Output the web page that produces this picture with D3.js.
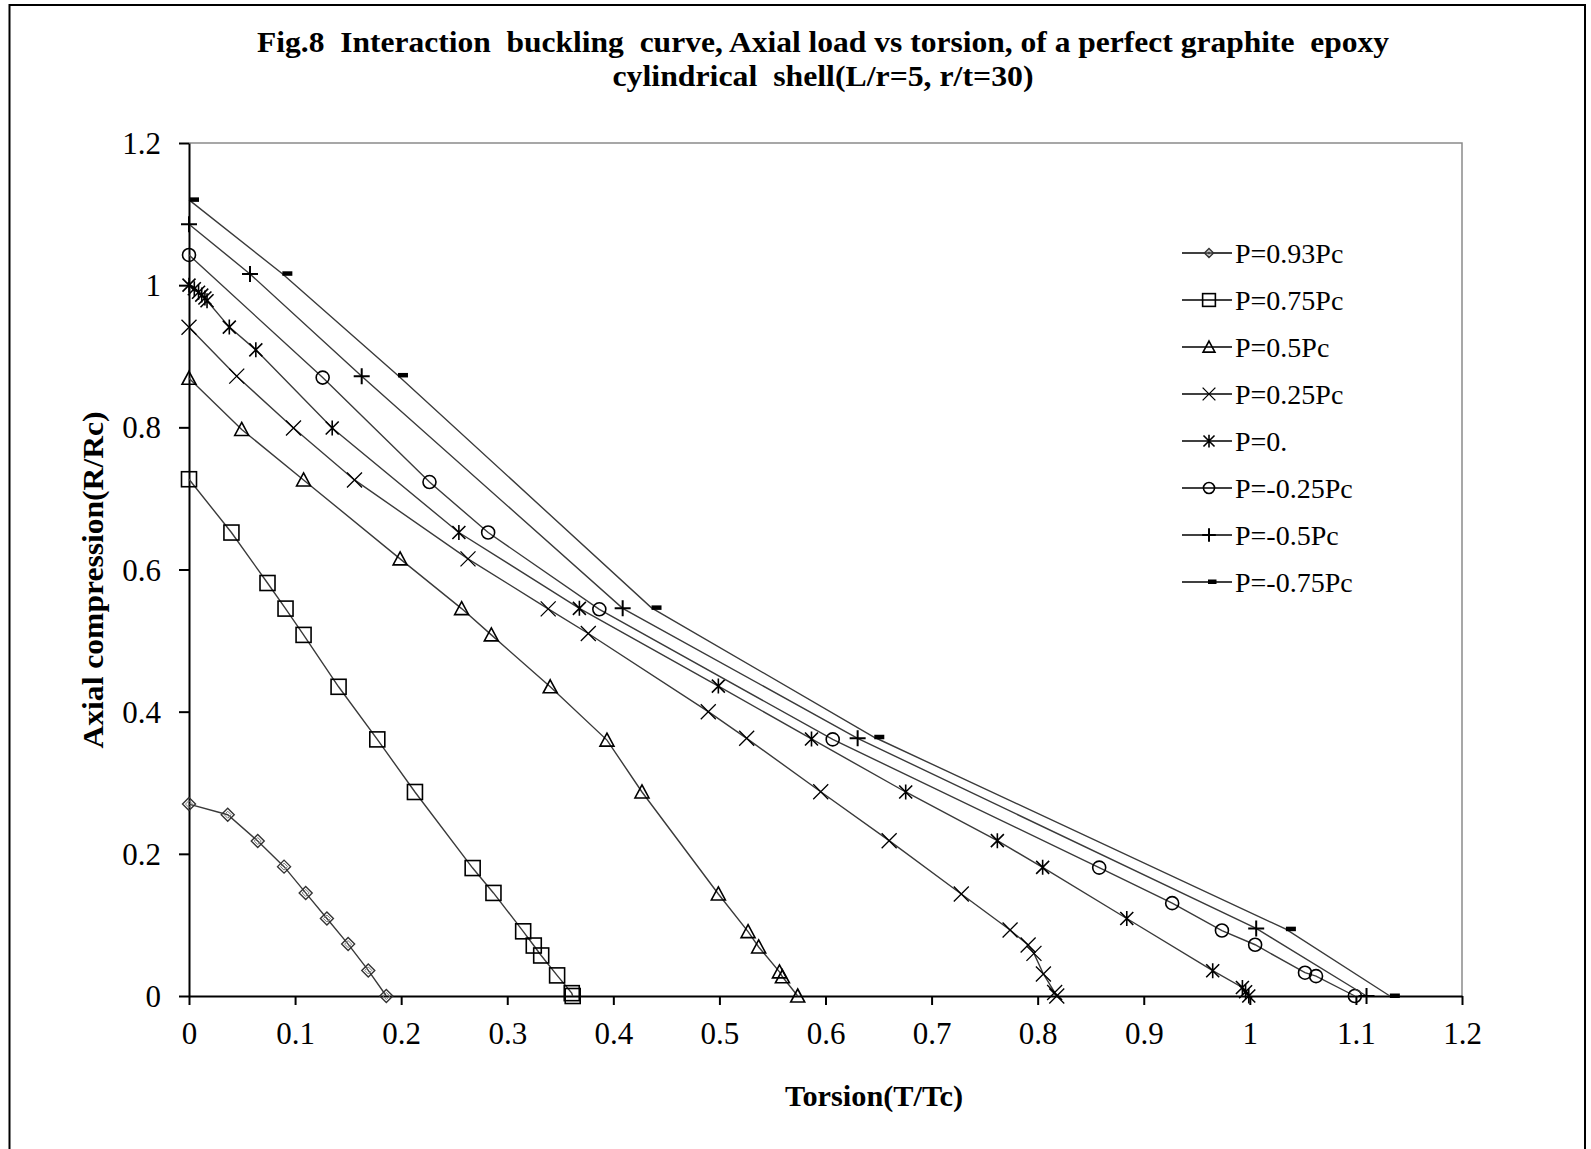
<!DOCTYPE html>
<html>
<head>
<meta charset="utf-8">
<script src="https://cdn.jsdelivr.net/npm/d3@7/dist/d3.min.js"></script>
<style>
  html, body { margin: 0; padding: 0; background: #fff; }
  svg text { font-family: "Liberation Serif", "Times New Roman", serif; fill: #000; white-space: pre; }
</style>
</head>
<body>
<svg id="chart" width="1591" height="1149"></svg>
<script>
// Interaction buckling data: torsion T/Tc against axial compression R/Rc,
// one curve per internal pressure level P.
const seriesNames = ["P=0.93Pc", "P=0.75Pc", "P=0.5Pc", "P=0.25Pc", "P=0.", "P=-0.25Pc", "P=-0.5Pc", "P=-0.75Pc"];
const seriesMarkers = ["diamond", "square", "triangle", "cross", "star", "circle", "plus", "dash"];

const tP093 = [0, 0.0365, 0.0648, 0.0896, 0.110, 0.130, 0.150, 0.169, 0.186];
const rP093 = [0.27, 0.255, 0.218, 0.182, 0.145, 0.109, 0.073, 0.036, 0];

const tP075 = [0, 0.040, 0.074, 0.091, 0.108, 0.141, 0.1775, 0.213, 0.2674, 0.287, 0.315, 0.325, 0.332, 0.347, 0.3608, 0.3617];
const rP075 = [0.727, 0.652, 0.581, 0.545, 0.508, 0.435, 0.361, 0.287, 0.180, 0.145, 0.091, 0.071, 0.057, 0.029, 0.004, 0];

const tP05 = [0, 0.0497, 0.108, 0.199, 0.257, 0.285, 0.3405, 0.394, 0.427, 0.499, 0.527, 0.537, 0.5566, 0.5594, 0.5738];
const rP05 = [0.869, 0.797, 0.726, 0.615, 0.545, 0.508, 0.435, 0.360, 0.287, 0.1435, 0.0905, 0.069, 0.034, 0.027, 0];

const tP025 = [0, 0.045, 0.0985, 0.156, 0.263, 0.3386, 0.3764, 0.4895, 0.5257, 0.5955, 0.660, 0.728, 0.774, 0.791, 0.7965, 0.8054, 0.816, 0.818];
const rP025 = [0.9407, 0.872, 0.799, 0.726, 0.615, 0.5446, 0.510, 0.400, 0.3625, 0.2874, 0.2185, 0.1435, 0.0928, 0.0717, 0.060, 0.031, 0.005, 0];

const tP0 = [0, 0.005, 0.009, 0.012, 0.015, 0.017, 0.038, 0.063, 0.135, 0.2544, 0.368, 0.499, 0.5868, 0.6756, 0.762, 0.8047, 0.884, 0.965, 0.993, 0.996, 0.999];
const rP0 = [1.0, 0.995, 0.99, 0.986, 0.982, 0.978, 0.941, 0.909, 0.799, 0.652, 0.5454, 0.436, 0.3616, 0.287, 0.2185, 0.181, 0.109, 0.0356, 0.012, 0.006, 0];

const tPm025 = [0, 0.126, 0.2267, 0.282, 0.3868, 0.6068, 0.858, 0.9268, 0.9737, 1.005, 1.052, 1.0624, 1.099];
const rPm025 = [1.0425, 0.870, 0.723, 0.652, 0.544, 0.361, 0.1806, 0.1306, 0.0921, 0.0721, 0.0328, 0.028, 0];

const tPm05 = [0, 0.0575, 0.1628, 0.4088, 0.6303, 1.006, 1.110];
const rPm05 = [1.0857, 1.0158, 0.872, 0.5454, 0.3625, 0.095, 0];

const tPm075 = [0, 0.088, 0.197, 0.436, 0.646, 1.034, 1.132];
const rPm075 = [1.12, 1.016, 0.873, 0.546, 0.364, 0.094, 0];

const xTickValues = [0, 0.1, 0.2, 0.3, 0.4, 0.5, 0.6, 0.7, 0.8, 0.9, 1, 1.1, 1.2];
const xTickLabels = ["0", "0.1", "0.2", "0.3", "0.4", "0.5", "0.6", "0.7", "0.8", "0.9", "1", "1.1", "1.2"];
const yTickValues = [0, 0.2, 0.4, 0.6, 0.8, 1, 1.2];
const yTickLabels = ["0", "0.2", "0.4", "0.6", "0.8", "1", "1.2"];

const titleLines = [
  "Fig.8  Interaction  buckling  curve, Axial load vs torsion, of a perfect graphite  epoxy",
  "cylindrical  shell(L/r=5, r/t=30)"
];
const xTitle = "Torsion(T/Tc)";
const yTitle = "Axial compression(R/Rc)";

const tValues = [tP093, tP075, tP05, tP025, tP0, tPm025, tPm05, tPm075];
const rValues = [rP093, rP075, rP05, rP025, rP0, rPm025, rPm05, rPm075];

// ---- layout ----
const svg = d3.select("#chart");
const plot = { left: 189, right: 1462, top: 143, bottom: 996 };
const x = d3.scaleLinear().domain([0, 1.2]).range([plot.left, plot.right]);
const y = d3.scaleLinear().domain([0, 1.2]).range([plot.bottom, plot.top]);

// outer frame
svg.append("path")
  .attr("d", "M9.5,1149 L9.5,5 L1585,5 L1585,1149")
  .attr("fill", "none").attr("stroke", "#000").attr("stroke-width", 2);

// title (narrow, tall bold serif)
titleLines.forEach((t, i) => {
  svg.append("text")
    .attr("x", 823).attr("y", i === 0 ? 52 : 86)
    .attr("text-anchor", "middle")
    .attr("font-size", 30).attr("font-weight", "bold")
    .attr("textLength", i === 0 ? 1132 : 421)
    .attr("lengthAdjust", "spacingAndGlyphs")
    .text(t);
});

// plot-area border (top and right)
svg.append("path")
  .attr("d", `M${plot.left},${plot.top} L${plot.right},${plot.top} L${plot.right},${plot.bottom}`)
  .attr("fill", "none").attr("stroke", "#8a8a8a").attr("stroke-width", 1.5);

// axes
const xAxis = d3.axisBottom(x).tickValues(xTickValues)
  .tickFormat((d, i) => xTickLabels[i]).tickSizeInner(9).tickSizeOuter(0);
const yAxis = d3.axisLeft(y).tickValues(yTickValues)
  .tickFormat((d, i) => yTickLabels[i]).tickSizeInner(10).tickSizeOuter(0);

const gx = svg.append("g").attr("transform", `translate(0,${plot.bottom})`).call(xAxis);
const gy = svg.append("g").attr("transform", `translate(${plot.left},0)`).call(yAxis);

[gx, gy].forEach(g => {
  g.select(".domain").attr("stroke", "#000").attr("stroke-width", 2);
  g.selectAll(".tick line").attr("stroke", "#000").attr("stroke-width", 2);
  g.selectAll(".tick text")
    .attr("font-family", "Liberation Serif, Times New Roman, serif")
    .attr("font-size", 31).attr("fill", "#000");
});
gx.selectAll(".tick text").attr("y", 48).attr("dy", 0);
gy.selectAll(".tick text").attr("x", -28).attr("dy", "0.34em");

// axis titles
svg.append("text")
  .attr("x", 874).attr("y", 1106)
  .attr("text-anchor", "middle")
  .attr("font-size", 29).attr("font-weight", "bold")
  .attr("textLength", 178).attr("lengthAdjust", "spacingAndGlyphs")
  .text(xTitle);

svg.append("text")
  .attr("transform", "translate(103,580) rotate(-90)")
  .attr("text-anchor", "middle")
  .attr("font-size", 29).attr("font-weight", "bold")
  .attr("textLength", 337).attr("lengthAdjust", "spacingAndGlyphs")
  .text(yTitle);

// ---- markers ----
function drawMarker(g, type, k) {
  const st = { stroke: "#000", "stroke-width": 1.6, fill: "none" };
  const apply = sel => { Object.entries(st).forEach(([a, v]) => sel.attr(a, v)); return sel; };
  if (type === "diamond") {
    const s = 6.5 * k, s2 = 3.5 * k;
    apply(g.append("path").attr("d", `M0,${-s}L${s},0L0,${s}L${-s},0Z`)).attr("stroke", "#333").attr("stroke-width", 1.4);
    apply(g.append("path").attr("d", `M0,${-s2}L${s2},0L0,${s2}L${-s2},0Z`)).attr("stroke", "#777").attr("stroke-width", 1);
  } else if (type === "square") {
    const s = 7.5 * k;
    apply(g.append("rect").attr("x", -s).attr("y", -s).attr("width", 2 * s).attr("height", 2 * s));
  } else if (type === "triangle") {
    const w = 7 * k;
    apply(g.append("path").attr("d", `M0,${-7 * k}L${w},${6 * k}L${-w},${6 * k}Z`));
  } else if (type === "cross") {
    const s = 7.5 * k;
    apply(g.append("path").attr("d", `M${-s},${-s}L${s},${s}M${-s},${s}L${s},${-s}`)).attr("stroke-width", 1.3);
  } else if (type === "star") {
    const s = 6.5 * k;
    apply(g.append("path").attr("d", `M${-s},${-s}L${s},${s}M${-s},${s}L${s},${-s}M0,${-7.5 * k}L0,${7.5 * k}`)).attr("stroke-width", 1.6);
  } else if (type === "circle") {
    apply(g.append("circle").attr("r", 6.5 * k));
  } else if (type === "plus") {
    const s = 8 * k;
    apply(g.append("path").attr("d", `M${-s},0L${s},0M0,${-s}L0,${s}`)).attr("stroke-width", 2);
  } else if (type === "dash") {
    g.append("rect").attr("x", 0).attr("y", -2.5).attr("width", 10 * k).attr("height", 4.5)
      .attr("fill", "#000");
  }
}

const line = d3.line().x(d => x(d[0])).y(d => y(d[1]));

seriesNames.forEach((name, si) => {
  const pts = tValues[si].map((t, i) => [t, rValues[si][i]]);
  const g = svg.append("g").attr("class", "series");
  g.append("path").datum(pts).attr("d", line)
    .attr("fill", "none").attr("stroke", "#3a3a3a").attr("stroke-width", 1.4);
  g.selectAll("g.pt").data(pts).enter().append("g")
    .attr("class", "pt")
    .attr("transform", d => `translate(${x(d[0])},${y(d[1])})`)
    .each(function () { drawMarker(d3.select(this), seriesMarkers[si], 1); });
});

// ---- legend ----
const legend = svg.append("g").attr("transform", "translate(1182,253)");
seriesNames.forEach((name, i) => {
  const row = legend.append("g").attr("transform", `translate(0,${i * 47})`);
  row.append("line").attr("x1", 0).attr("x2", 50).attr("y1", 0).attr("y2", 0)
    .attr("stroke", "#000").attr("stroke-width", 1.6);
  const mg = row.append("g").attr("transform", `translate(${seriesMarkers[i] === "dash" ? 26 : 27},0)`);
  drawMarker(mg, seriesMarkers[i], seriesMarkers[i] === "diamond" ? 0.7 : 0.85);
  row.append("text").attr("x", 53).attr("y", 10)
    .attr("font-size", 28).text(name);
});
</script>
</body>
</html>
